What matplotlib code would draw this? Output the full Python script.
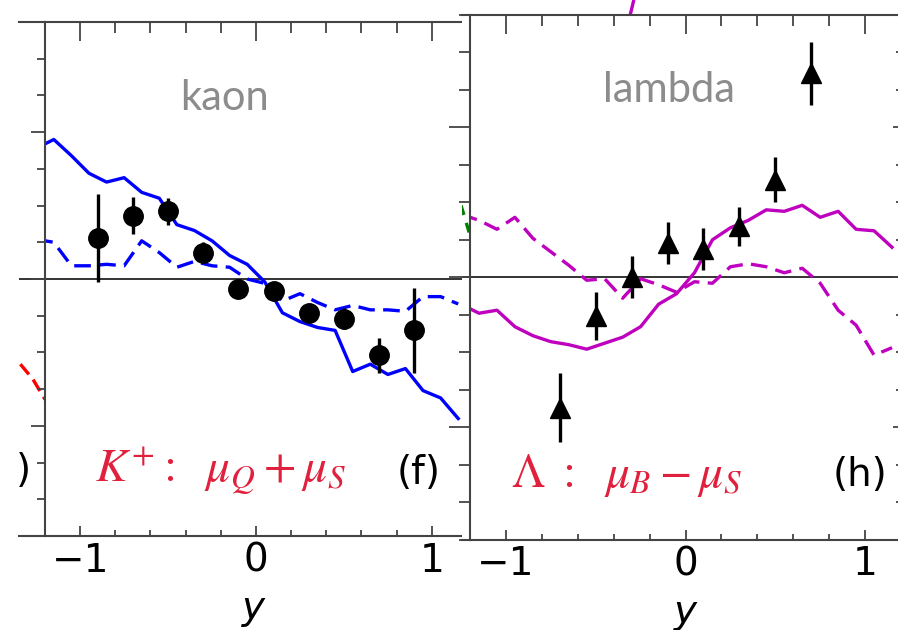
import numpy as np
import matplotlib
matplotlib.use('Agg')
import matplotlib.pyplot as plt
from matplotlib.ticker import MultipleLocator

plt.rcParams['mathtext.fontset'] = 'stix'

# model curves, sampled every 0.1 in rapidity
y_grid = np.round(np.arange(-1.25, 1.2, 0.1), 2)

kaon_solid = [0.89, 0.95, 0.84, 0.72, 0.66, 0.69, 0.59, 0.55, 0.37, 0.33, 0.26, 0.16, 0.10,
              -0.02, -0.23, -0.29, -0.33, -0.35, -0.63, -0.58, -0.65, -0.61, -0.76, -0.81, -0.95]
kaon_dashed = [0.27, 0.25, 0.09, 0.09, 0.10, 0.09, 0.26, 0.18, 0.08, 0.12, 0.09, 0.08, 0.0,
               -0.03, -0.15, -0.10, -0.16, -0.21, -0.18, -0.21, -0.21, -0.22, -0.12, -0.12, -0.17]
lambda_solid = [-0.18, -0.24, -0.22, -0.33, -0.39, -0.43, -0.45, -0.48, -0.44, -0.40, -0.33, -0.18, -0.11,
                0.03, 0.25, 0.33, 0.38, 0.45, 0.44, 0.48, 0.40, 0.44, 0.32, 0.31, 0.20]
lambda_dashed = [0.42, 0.38, 0.32, 0.40, 0.26, 0.17, 0.08, -0.02, -0.01, -0.14, -0.01, -0.05, -0.10,
                 -0.03, -0.04, 0.07, 0.09, 0.07, 0.03, 0.06, -0.04, -0.22, -0.32, -0.52, -0.47]

# data points
kaon_y = [-0.9, -0.7, -0.5, -0.3, -0.1, 0.1, 0.3, 0.5, 0.7, 0.9]
kaon_val = [0.28, 0.43, 0.46, 0.18, -0.07, -0.08, -0.23, -0.27, -0.52, -0.35]
kaon_err = [0.30, 0.125, 0.09, 0.07, 0.06, 0.05, 0.04, 0.07, 0.12, 0.29]

lambda_y = [-0.7, -0.5, -0.3, -0.1, 0.1, 0.3, 0.5, 0.7]
lambda_val = [-0.87, -0.26, 0.0, 0.23, 0.19, 0.34, 0.65, 1.36]
lambda_err = [0.23, 0.16, 0.14, 0.14, 0.14, 0.13, 0.15, 0.21]

# bits of neighbouring panels that show at the edges
e_red_x = [1.06, 1.13, 1.2]
e_red_val = [-0.58, -0.68, -0.82]
g_green_x = [1.15, 1.2]
g_green_val = [0.48, 0.28]
d_mag_x = [-0.31, -0.29]
d_mag_val = [-1.76, -1.66]

W, H = 898, 630
fig = plt.figure(figsize=(W / 100, H / 100), dpi=100)


def px_axes(left, top, right, bottom):
    return fig.add_axes([left / W, 1 - bottom / H, (right - left) / W, (bottom - top) / H])


spine_c = '#444444'
label_font = dict(fontsize=28, family='DejaVu Sans')


def style(ax, xlim, left=True, right=False, top=True, bottom=True):
    ax.set_xlim(*xlim)
    ax.set_ylim(-1.75, 1.75)
    for s, v in zip(['left', 'right', 'top', 'bottom'], [left, right, top, bottom]):
        ax.spines[s].set_visible(v)
        ax.spines[s].set_color(spine_c)
        ax.spines[s].set_linewidth(1.5)
    ax.axhline(0, color='#333333', lw=1.4, zorder=1)


# neighbour (e), only its right edge
ax_e = px_axes(19, 22, 45, 536)
style(ax_e, (1.2 - 26 / 176, 1.2), left=False)
ax_e.set_xticks([])
ax_e.set_yticks([])
ax_e.plot(e_red_x, e_red_val, color='red', lw=2.4, dashes=(4, 2))
ax_e.text(1.075, -1.31, ')', ha='center', va='center', **label_font)

# panel (f) kaon
ax = px_axes(45, 22, 462, 536)
style(ax, (-1.2, 1.2 - 5 / 176))
ax.plot(y_grid, kaon_solid, color='blue', lw=2.4)
ax.plot(y_grid, kaon_dashed, color='blue', lw=2.4, dashes=(5, 2.5))
ax.errorbar(kaon_y, kaon_val, yerr=kaon_err, fmt='o', color='black', ms=14, elinewidth=2.4, capsize=0, zorder=5)
ax.text(-0.18, 1.23, 'kaon', color='#8c8c8c', fontsize=30, family='Lato', ha='center', va='center')
ax.text(-0.915, -1.39, r'$K^{+}:\ \ \mu_Q + \mu_S$', color='#e0203c', fontsize=34, ha='left', va='baseline')
ax.text(0.926, -1.32, '(f)', ha='center', va='center', **label_font)
ax_f = ax

# neighbour (g), only its right edge
ax_g = px_axes(462, 15, 470, 539.5)
style(ax_g, (1.2 - 8 / 179.5, 1.2), left=False)
ax_g.set_xticks([])
ax_g.set_yticks([])
ax_g.plot(g_green_x, g_green_val, color='green', lw=2.4, dashes=(3, 2.5))

# neighbour above (h)
ax_d = px_axes(470, 15 - 3.5 * 149.5, 901, 15)
style(ax_d, (-1.2, 1.2), left=False, top=False, bottom=False)
ax_d.set_xticks([])
ax_d.set_yticks([])
ax_d.lines[0].set_visible(False)
ax_d.plot(d_mag_x, d_mag_val, color='m', lw=2.4)

# panel (h) lambda
ax = px_axes(470, 15, 901, 539.5)
style(ax, (-1.2, 1.2), right=True)
ax.plot(y_grid, lambda_solid, color='m', lw=2.4)
ax.plot(y_grid, lambda_dashed, color='m', lw=2.4, dashes=(5, 2.5))
ax.errorbar(lambda_y, lambda_val, yerr=lambda_err, fmt='^', color='black', ms=14, elinewidth=2.4, capsize=0, zorder=5)
ax.text(-0.09, 1.25, 'lambda', color='#8c8c8c', fontsize=30, family='Lato', ha='center', va='center')
ax.text(-0.97, -1.40, r'$\Lambda\ :\ \ \mu_B - \mu_S$', color='#e0203c', fontsize=34, ha='left', va='baseline')
ax.text(0.97, -1.32, '(h)', ha='center', va='center', **label_font)
ax_h = ax

for ax in [ax_f, ax_h]:
    ax.xaxis.set_major_locator(MultipleLocator(1))
    ax.xaxis.set_minor_locator(MultipleLocator(0.2))
    ax.yaxis.set_major_locator(MultipleLocator(1))
    ax.yaxis.set_minor_locator(MultipleLocator(0.25))
    ax.tick_params(axis='x', which='both', top=True, bottom=True, direction='in', labelsize=28,
                   pad=4, color=spine_c, width=1.3)
    ax.tick_params(axis='x', which='major', length=7)
    ax.tick_params(axis='x', which='minor', length=4)
    ax.tick_params(axis='y', which='both', left=True, right=(ax is ax_h), labelleft=False,
                   direction='in', color=spine_c, width=1.3)
    ax.tick_params(axis='y', which='major', length=6)
    ax.tick_params(axis='y', which='minor', length=3.5)
    ax.set_xlabel('y', fontstyle='italic', labelpad=7, **label_font)
    ax.set_xticks([-1, 0, 1])
    ax.set_xticklabels(['\u22121', '0', '1'])
    # top and left ticks cross the spine where the panels meet
    for t in ax.xaxis.get_major_ticks() + ax.xaxis.get_minor_ticks():
        t.tick2line.set_marker(3)
    for t in ax.yaxis.get_major_ticks() + ax.yaxis.get_minor_ticks():
        t.tick1line.set_marker(0)

for t in ax_f.xaxis.get_major_ticks():
    t.tick2line.set_markersize(14)
for t in ax_f.xaxis.get_minor_ticks():
    t.tick2line.set_markersize(8)
for t in ax_f.yaxis.get_major_ticks():
    t.tick1line.set_markersize(10)
for t in ax_f.yaxis.get_minor_ticks():
    t.tick1line.set_markersize(6)
for t in ax_h.xaxis.get_major_ticks():
    t.tick2line.set_markersize(14)
for t in ax_h.xaxis.get_minor_ticks():
    t.tick2line.set_markersize(8)
for t in ax_h.yaxis.get_major_ticks():
    t.tick1line.set_markersize(15)
for t in ax_h.yaxis.get_minor_ticks():
    t.tick1line.set_markersize(8)

fig.savefig('out.png', dpi=100)
